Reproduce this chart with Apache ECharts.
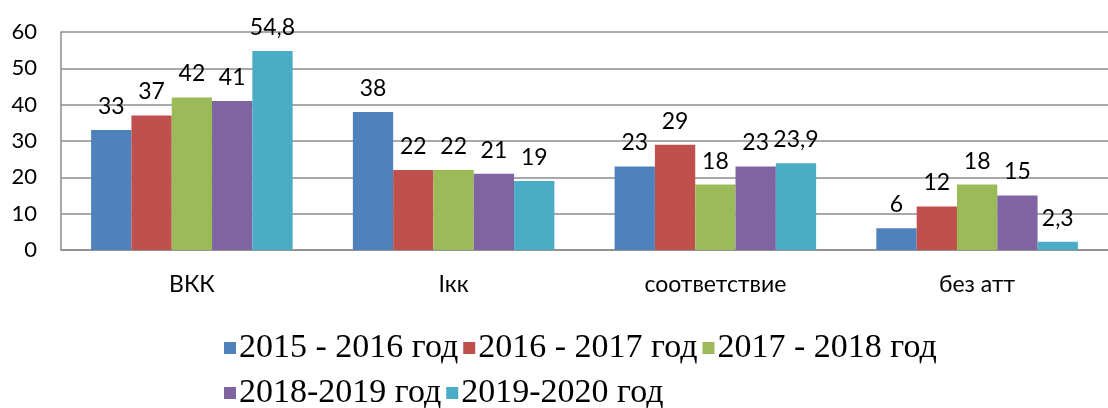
<!DOCTYPE html>
<html>
<head>
<meta charset="utf-8">
<script src="https://cdn.jsdelivr.net/npm/echarts@6/dist/echarts.min.js"></script>
<style>
  html, body { margin: 0; padding: 0; background: #fff; }
  #chart { width: 1108px; height: 408px; }
</style>
</head>
<body>
<div id="chart"></div>
<script>
const categories = ["ВКК", "Ікк", "соответствие", "без атт"];
const seriesNames = ["2015 - 2016 год", "2016 - 2017 год", "2017 - 2018 год", "2018-2019 год", "2019-2020 год"];
const y2016 = [33, 38, 23, 6];
const y2017 = [37, 22, 29, 12];
const y2018 = [42, 22, 18, 18];
const y2019 = [41, 21, 23, 15];
const y2020 = [54.8, 19, 23.9, 2.3];
const colors = ["#4F81BD", "#C0504D", "#9BBB59", "#8064A2", "#4BACC6"];

const values = [y2016, y2017, y2018, y2019, y2020];
const labelFont = "Lato, 'Noto Sans', sans-serif";

const chart = echarts.init(document.getElementById("chart"));

chart.setOption({
  animation: false,
  grid: { left: 61, right: -9, top: 32, bottom: 158 },
  legend: {
    data: seriesNames,
    left: 219,
    top: 323,
    width: 760,
    itemWidth: 12,
    itemHeight: 12,
    itemGap: 5,
    icon: "rect",
    textStyle: {
      fontFamily: "'Liberation Serif', 'DejaVu Serif', serif",
      fontSize: 34,
      lineHeight: 40,
      color: "#000",
      padding: [0, 0, 0, -2],
    },
  },
  xAxis: {
    type: "category",
    data: categories,
    axisLine: { lineStyle: { color: "#8c8c8c", width: 1.5 } },
    axisTick: { show: false },
    axisLabel: { color: "#000", fontSize: 23, fontFamily: labelFont, margin: 23 },
  },
  yAxis: {
    type: "value",
    min: 0,
    max: 60,
    interval: 10,
    axisLine: { show: true, lineStyle: { color: "#8c8c8c", width: 1.5 } },
    axisTick: { show: false },
    splitLine: { lineStyle: { color: "#8c8c8c", width: 1.5 } },
    axisLabel: { color: "#000", fontSize: 22, fontFamily: labelFont, margin: 24 },
  },
  series: seriesNames.map((name, i) => ({
    name: name,
    type: "bar",
    data: values[i],
    barGap: "0%",
    barCategoryGap: "23%",
    itemStyle: { color: colors[i] },
    label: {
      show: true,
      position: "top",
      distance: 12,
      color: "#000",
      fontSize: 23,
      fontFamily: labelFont,
      formatter: (p) => String(p.value).replace(".", ","),
    },
  })),
});
</script>
</body>
</html>
